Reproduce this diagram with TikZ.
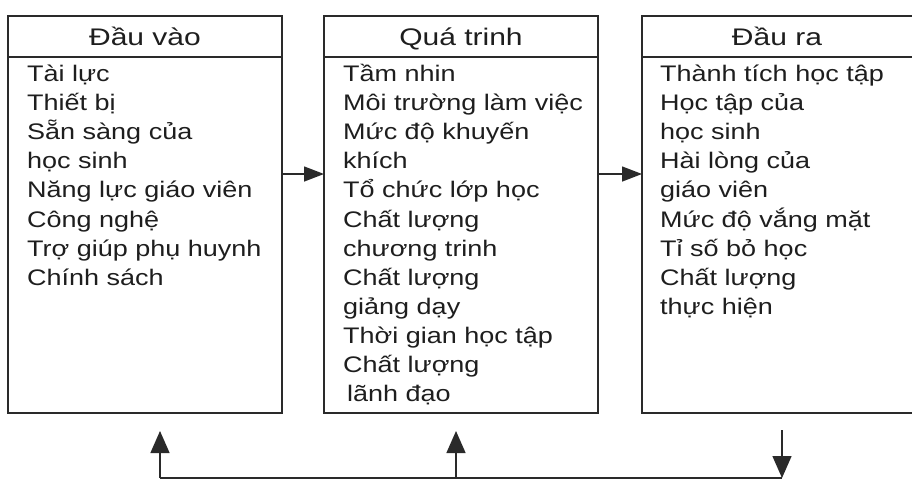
\documentclass[tikz,border=0pt]{standalone}
\usepackage{fontspec}
\setmainfont{Liberation Sans}[FakeStretch=1.2]
\newfontfamily\headfont{Liberation Sans}[FakeStretch=1.25]
\usetikzlibrary{arrows.meta}
\definecolor{ink}{HTML}{2A2A2A}
\definecolor{txt}{HTML}{1E1E1E}
\begin{document}
\begin{tikzpicture}[x=1pt,y=1pt,
  box/.style={draw=ink, line width=1.4pt, inner sep=0pt, outer sep=0pt, minimum height=397pt},
  head/.style={text=txt, inner sep=0pt, anchor=base, font=\headfont\fontsize{24}{28}\selectfont},
  item/.style={text=txt, inner sep=0pt, anchor=base west, font=\fontsize{22.5}{26}\selectfont},
  link/.style={draw=ink, line width=1.4pt},
  arr/.style={link, -{Triangle[length=20pt,width=15pt]}},
  varr/.style={link, -{Triangle[length=22pt,width=19pt]}}]
\useasboundingbox (0,0) rectangle (912,-480);
\fill[white] (0,0) rectangle (912,-480);

% boxes
\node[box, minimum width=274pt] (b1) at (145,-214.5) {};
\node[box, minimum width=274pt] (b2) at (461,-214.5) {};
\node[box, minimum width=274pt] (b3) at (779,-214.5) {};

\coordinate (hy) at (0,-57);
\foreach \b in {b1,b2,b3}{
  \draw[link] (\b.west |- hy) -- (\b.east |- hy);
}

% headers
\node[head] (h1) at (145,-45) {Đầu vào};
\node[head] (h2) at (461,-45) {Quá trinh};
\node[head] (h3) at (777,-45) {Đầu ra};

% items
\foreach \t [count=\i from 0] in {Tài lực, Thiết bị, Sẵn sàng của, học sinh, Năng lực giáo viên, Công nghệ, Trợ giúp phụ huynh, Chính sách}
  \node[item] (p\i) at (27,-81.5-29.1*\i) {\t};

\foreach \t [count=\i from 0] in {Tầm nhin, Môi trường làm việc, Mức độ khuyến, khích, Tổ chức lớp học, Chất lượng, chương trinh, Chất lượng, giảng dạy, Thời gian học tập, Chất lượng, \hspace{4pt}lãnh đạo}
  \node[item] (q\i) at (343,-81.5-29.1*\i) {\t};

\foreach \t [count=\i from 0] in {Thành tích học tập, Học tập của, học sinh, Hài lòng của, giáo viên, Mức độ vắng mặt, Tỉ số bỏ học, Chất lượng, thực hiện}
  \node[item] (r\i) at (660,-81.5-29.1*\i) {\t};

% horizontal arrows
\coordinate (ay) at (0,-174);
\draw[arr] (b1.east |- ay) -- (b2.west |- ay);
\draw[arr] (b2.east |- ay) -- (b3.west |- ay);

% feedback loop
\coordinate (f1) at (160,-478);
\coordinate (f2) at (456,-478);
\coordinate (f3) at (782,-478);
\coordinate (t1) at (160,-431);
\coordinate (t2) at (456,-431);
\coordinate (t3) at (782,-430);
\draw[link] (f1) -- (f3);
\draw[varr] (f1) -- (t1);
\draw[varr] (f2) -- (t2);
\draw[varr] (t3) -- (f3);
\end{tikzpicture}
\end{document}
